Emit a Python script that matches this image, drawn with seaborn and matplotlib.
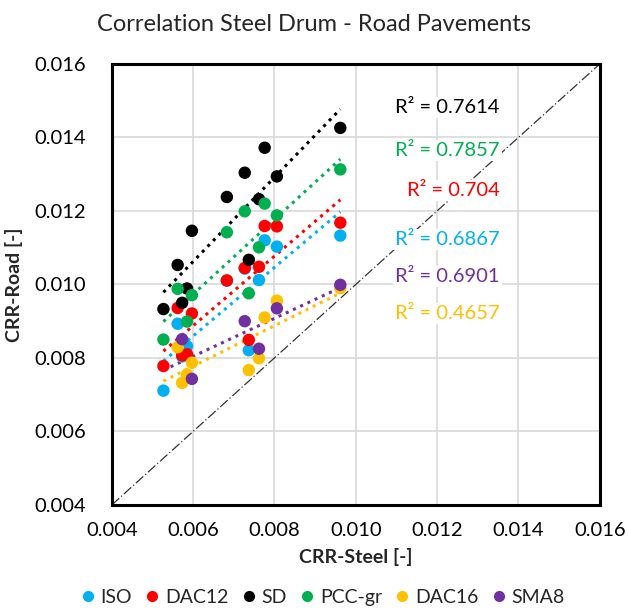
import numpy as np
import pandas as pd
import matplotlib
matplotlib.use("Agg")
import matplotlib.pyplot as plt
import seaborn as sns

# CRR values (steel drum vs road)
series = ["ISO", "DAC12", "SD", "PCC-gr", "DAC16", "SMA8"]
colors = ["#00B0F0", "#FF0000", "#000000", "#00B050", "#FFC000", "#7030A0"]
r2_labels = ["R² = 0.6867", "R² = 0.704", "R² = 0.7614", "R² = 0.7857", "R² = 0.4657", "R² = 0.6901"]

iso_x = [0.00527, 0.00562, 0.00573, 0.00585, 0.00683, 0.00727, 0.00737, 0.00762, 0.00776, 0.00806, 0.00962]
iso_y = [0.00711, 0.00893, 0.00804, 0.00832, 0.01010, 0.01043, 0.00821, 0.01012, 0.01120, 0.01103, 0.01133]

dac12_x = [0.00527, 0.00562, 0.00573, 0.00585, 0.00597, 0.00683, 0.00727, 0.00737, 0.00762, 0.00776, 0.00806, 0.00962]
dac12_y = [0.00778, 0.00936, 0.00807, 0.00810, 0.00921, 0.01011, 0.01045, 0.00849, 0.01048, 0.01159, 0.01158, 0.01168]

sd_x = [0.00527, 0.00562, 0.00573, 0.00585, 0.00597, 0.00683, 0.00727, 0.00737, 0.00762, 0.00776, 0.00806, 0.00962]
sd_y = [0.00933, 0.01053, 0.00950, 0.00989, 0.01146, 0.01238, 0.01304, 0.01067, 0.01232, 0.01372, 0.01294, 0.01426]

pcc_x = [0.00527, 0.00562, 0.00585, 0.00597, 0.00683, 0.00727, 0.00737, 0.00762, 0.00776, 0.00806, 0.00962]
pcc_y = [0.00850, 0.00988, 0.00899, 0.00971, 0.01142, 0.01199, 0.00976, 0.01101, 0.01220, 0.01188, 0.01313]

dac16_x = [0.00562, 0.00573, 0.00585, 0.00597, 0.00737, 0.00762, 0.00776, 0.00806, 0.00962]
dac16_y = [0.00829, 0.00732, 0.00755, 0.00787, 0.00767, 0.00799, 0.00910, 0.00956, 0.00990]

sma8_x = [0.00573, 0.00597, 0.00727, 0.00762, 0.00806, 0.00962]
sma8_y = [0.00851, 0.00743, 0.00900, 0.00825, 0.00935, 0.00999]

xs = [iso_x, dac12_x, sd_x, pcc_x, dac16_x, sma8_x]
ys = [iso_y, dac12_y, sd_y, pcc_y, dac16_y, sma8_y]

# text placement of the R² labels (axes fraction)
r2_pos = [0.603, 0.714, 0.902, 0.803, 0.435, 0.517]

df = pd.concat([pd.DataFrame({"steel": x, "road": y, "tyre": s})
                for s, x, y in zip(series, xs, ys)], ignore_index=True)

sns.set_style("white")
plt.rcParams["font.family"] = ["Lato", "DejaVu Sans"]

fig = plt.figure(figsize=(6.28, 6.15), dpi=100)
ax = fig.add_axes([0.178, 0.179, 0.777, 0.717])

palette = dict(zip(series, colors))
sns.scatterplot(data=df, x="steel", y="road", hue="tyre", hue_order=series,
                palette=palette, s=80, edgecolor="none", ax=ax, legend=False, zorder=3)

# linear trendlines over the full steel range
x0, x1 = df["steel"].min(), df["steel"].max()
for s, x, y in zip(series, xs, ys):
    k, b = np.polyfit(x, y, 1)
    ax.plot([x0, x1], [k * x0 + b, k * x1 + b], ls=(0, (1, 1.6)), lw=2.2,
            color=palette[s], zorder=2)

# 1:1 line
ax.plot([0.004, 0.016], [0.004, 0.016], color="#333333", lw=0.9,
        ls=(0, (8, 2, 1, 2)), zorder=1)

for lab, c, yp in zip(r2_labels, colors, r2_pos):
    ax.text(0.795, yp, lab, transform=ax.transAxes, ha="right", va="center",
            color=c, fontsize=14.5,
            bbox=dict(facecolor="white", edgecolor="none", pad=1.5), zorder=4)

ax.set_xlim(0.004, 0.016)
ax.set_ylim(0.004, 0.016)
ticks = np.arange(0.004, 0.0161, 0.002)
ax.set_xticks(ticks)
ax.set_yticks(ticks)
ax.set_xticklabels([f"{t:.3f}" for t in ticks])
ax.set_yticklabels([f"{t:.3f}" for t in ticks])
ax.grid(True, color="#d9d9d9", lw=1.2, zorder=0)
ax.set_axisbelow(True)
for sp in ax.spines.values():
    sp.set_color("black")
    sp.set_linewidth(2.2)
ax.tick_params(direction="inout", length=11, width=1.8, labelsize=14.5,
               colors="black")
ax.tick_params(axis="y", pad=13)
ax.tick_params(axis="x", pad=7)

ax.set_xlabel("CRR-Steel [-]", fontsize=14, fontweight="bold", labelpad=6)
ax.set_ylabel("CRR-Road [-]", fontsize=14, fontweight="bold", labelpad=8)
fig.suptitle("Correlation Steel Drum - Road Pavements", fontsize=17, y=0.978)

handles = [plt.Line2D([], [], marker="o", ls="", color=c, markersize=7) for c in colors]
fig.legend(handles, series, loc="center", bbox_to_anchor=(0.515, 0.028), ncol=6,
           frameon=False, fontsize=14, handlelength=0.6, handletextpad=0.35,
           columnspacing=0.75)

fig.savefig("out.png", dpi=100)
